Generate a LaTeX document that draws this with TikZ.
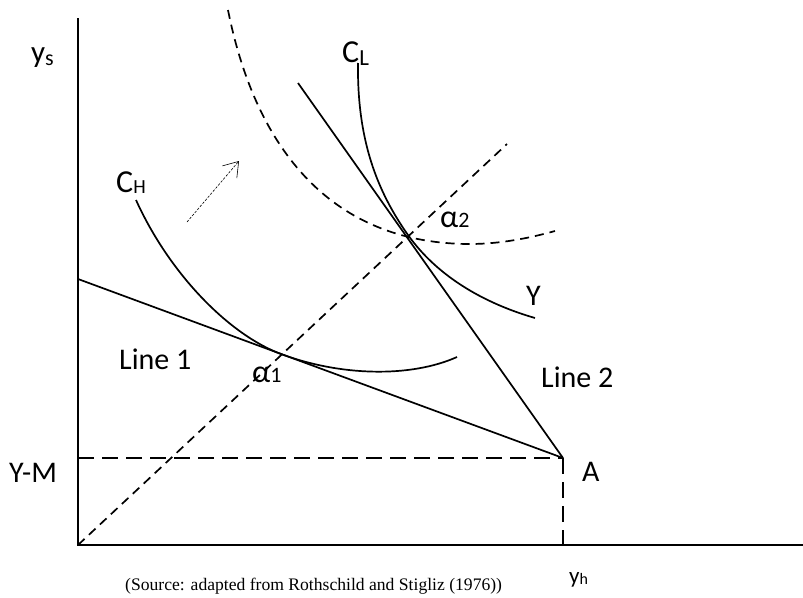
\documentclass[tikz,border=0pt]{standalone}
\usepackage{fontspec}
\setmainfont{Carlito}
\newfontfamily\srcfont{Liberation Serif}
\usetikzlibrary{arrows.meta}
\tikzset{
  axisline/.style={line width=2.6pt},
  solidline/.style={line width=1.7pt},
  longdash/.style={line width=1.7pt, dash pattern=on 16pt off 8pt},
  shortdash/.style={line width=1.7pt, dash pattern=on 9pt off 6pt},
  lbl/.style={font=\fontsize{30}{30}\selectfont, inner sep=0pt, anchor=base west},
  movearrow/.style={line width=0.6pt, dash pattern=on 2.5pt off 1.5pt,
    -{Straight Barb[length=14pt,width=19pt,line width=0.6pt]}},
}
\newcommand{\mysub}[3]{\raisebox{#2}{\fontsize{#1}{#1}\selectfont #3}}
\begin{document}
\begin{tikzpicture}[x=1pt,y=-1pt]
\useasboundingbox (0,0) rectangle (803,597);
% coordinates
\coordinate (O) at (78,545);
\coordinate (Ytop) at (78,18);
\coordinate (Xend) at (803,545);
\coordinate (A) at (563,458);
\coordinate (YM) at (78,458);
\coordinate (Abot) at (563,545);
\coordinate (L1s) at (78,279);
\coordinate (L2s) at (298,83);
\coordinate (Dend) at (507,144);
\coordinate (a1) at (281,354);
\coordinate (a2) at (408,235);
\coordinate (arS) at (187,222);
\coordinate (arE) at (239,161);
% axes
\draw[axisline] (Ytop) -- (O) -- (Xend);
% dashed guides
\draw[longdash] (YM) -- (A);
\draw[longdash] (A) -- (Abot);
\draw[shortdash] (O) -- (Dend);
% budget lines
\draw[solidline] (L1s) -- (A);
\draw[solidline] (L2s) -- (A);
% indifference curve C_H
\draw[solidline] (136,200) .. controls (170,275) and (230,335) .. (a1)
  .. controls (340,376) and (410,378) .. (457,357);
% indifference curve C_L
\draw[solidline] (358,63) .. controls (357,140) and (377,191) .. (a2)
  .. controls (440,280) and (490,305) .. (535,318);
% dashed iso-profit curve
\draw[shortdash] (228,10) .. controls (258,160) and (340,244) .. (470,244)
  .. controls (500,244) and (530,238) .. (555,231);
% movement arrow
\draw[movearrow] (arS) -- (arE);
% labels
\node[lbl, font=\fontsize{31}{31}\selectfont] (ys) at (31,62) {y\mysub{22}{-3pt}{s}};
\node[lbl, font=\fontsize{32}{32}\selectfont] (CH) at (116,192) {C\mysub{20}{-1pt}{H}};
\node[lbl, font=\fontsize{32}{32}\selectfont] (CL) at (342,62) {C\mysub{23}{-3pt}{L}};
\node[lbl, font=\fontsize{32}{32}\selectfont] (al2) at (440,227) {α\mysub{22}{0pt}{2}};
\node[lbl, font=\fontsize{32}{32}\selectfont] (al1) at (252,382) {α\mysub{22}{0pt}{1}};
\node[lbl] (Ylab) at (526,305) {Y};
\node[lbl] (Alab) at (582,481) {A};
\node[lbl] (YMlab) at (9,482) {Y-M};
\node[lbl] (line1) at (119,369) {Line 1};
\node[lbl] (line2) at (541,387) {Line 2};
\node[lbl, font=\fontsize{23}{23}\selectfont] (yh) at (569,583) {y\mysub{16}{-1pt}{h}};
\node[lbl, font=\srcfont\fontsize{17.6}{17.6}\selectfont] (src) at (125,590) {(Source: adapted from Rothschild and Stigliz (1976))};
\end{tikzpicture}
\end{document}
